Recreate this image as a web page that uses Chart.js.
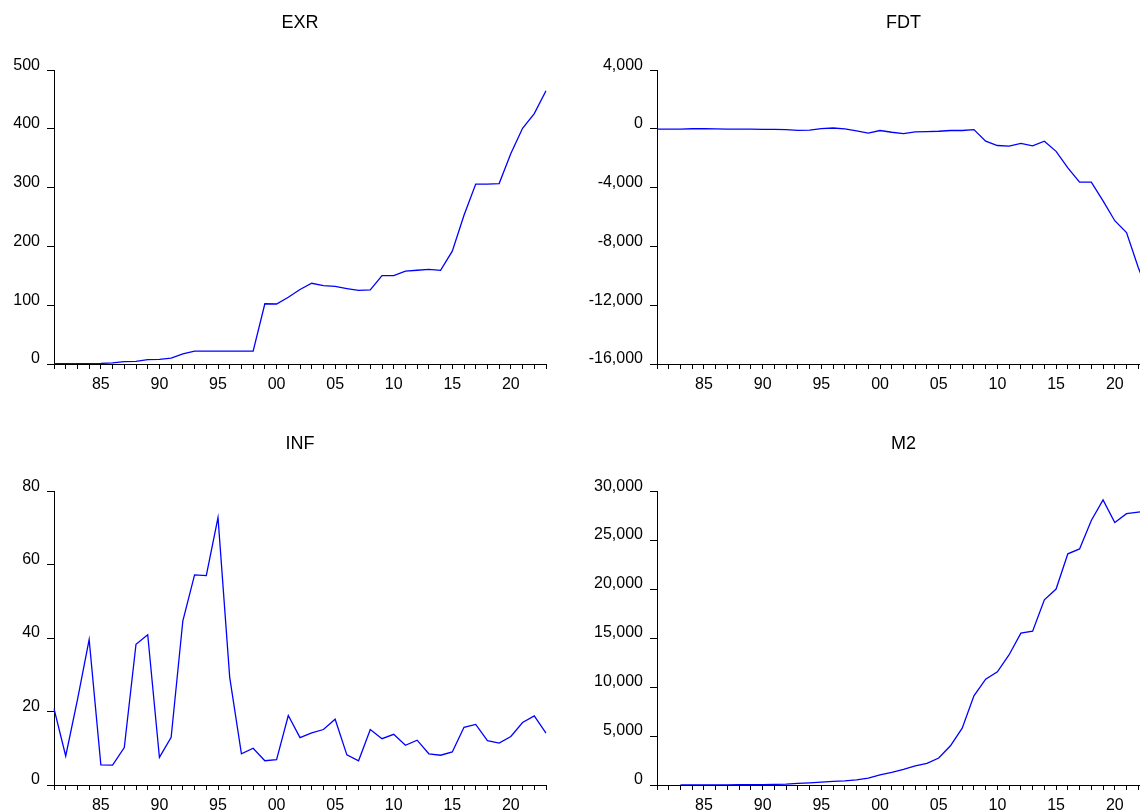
<!DOCTYPE html>
<html lang="en">
<head>
    <meta charset="UTF-8">
    <title>EXR, FDT, INF, M2</title>
    <script src="https://cdn.jsdelivr.net/npm/chart.js"></script>
    <style>
        html, body {
            margin: 0;
            padding: 0;
            background: #fff;
            overflow: hidden;
            width: 1140px;
            height: 812px;
        }
        canvas {
            position: absolute;
        }
    </style>
</head>
<body>

<canvas id="exrChart" width="570" height="410" style="left:0;top:0"></canvas>
<canvas id="fdtChart" width="600" height="410" style="left:570px;top:0"></canvas>
<canvas id="infChart" width="570" height="410" style="left:0;top:421px"></canvas>
<canvas id="m2Chart" width="600" height="410" style="left:570px;top:421px"></canvas>

<script>
    // Años (1981-2023)
    const years = [1981, 1982, 1983, 1984, 1985, 1986, 1987, 1988, 1989, 1990,
                   1991, 1992, 1993, 1994, 1995, 1996, 1997, 1998, 1999, 2000,
                   2001, 2002, 2003, 2004, 2005, 2006, 2007, 2008, 2009, 2010,
                   2011, 2012, 2013, 2014, 2015, 2016, 2017, 2018, 2019, 2020,
                   2021, 2022, 2023];

    // Series
    const exr = [0.6, 0.7, 0.7, 0.8, 0.9, 2.0, 4.0, 4.5, 7.4, 8.0,
                 9.9, 17.3, 22.0, 21.9, 21.9, 21.9, 21.9, 21.9, 102.5, 102.1,
                 113.5, 126.8, 137.3, 133.3, 132.0, 128.4, 125.2, 126.0, 150.3, 150.3,
                 158.0, 159.5, 161.0, 159.3, 192.0, 253.0, 306.0, 306.1, 307.0, 358.0,
                 401.0, 426.0, 465.0];

    const fdt = [-20, -15, -10, 10, 15, -5, -10, -15, -20, -30,
                 -40, -50, -100, -90, 20, 60, 0, -130, -290, -110,
                 -230, -320, -200, -180, -160, -110, -110, -50, -835, -1130,
                 -1170, -990, -1150, -835, -1530, -2660, -3630, -3630, -4900, -6250,
                 -7060, -9430, -11500];

    const inf = [20.8, 7.9, 23.2, 39.6, 5.5, 5.4, 10.2, 38.3, 40.9, 7.5,
                 13.0, 44.7, 57.2, 57.0, 72.8, 29.3, 8.5, 10.0, 6.6, 6.9,
                 18.9, 12.9, 14.2, 15.1, 17.9, 8.2, 6.6, 15.1, 12.6, 13.8,
                 10.8, 12.2, 8.5, 8.1, 9.0, 15.7, 16.5, 12.1, 11.4, 13.2,
                 17.0, 18.8, 14.1];

    const m2 = [null, null, 13, 15, 16, 18, 21, 27, 30, 45,
                65, 80, 160, 220, 300, 370, 430, 525, 700, 1040,
                1300, 1600, 1950, 2200, 2750, 4000, 5800, 9100, 10800, 11550,
                13300, 15500, 15700, 18900, 20000, 23600, 24100, 27000, 29100, 26800,
                27700, 27850, 28000];

    // Ejes Y: min, max, paso
    const exrAxis = [0, 500, 100];
    const fdtAxis = [-16000, 4000, 4000];
    const infAxis = [0, 80, 20];
    const m2Axis = [0, 30000, 5000];

    const fontFamily = '"Liberation Sans", Arial, sans-serif';

    function crearGrafico(id, titulo, datos, eje, anchoEjeY, padDerecha) {
        const config = {
            type: 'line',
            data: {
                labels: years.map(String),
                datasets: [{
                    label: titulo,
                    data: datos,
                    borderColor: '#0000ff',
                    borderWidth: 1.3,
                    pointRadius: 0,
                    tension: 0,
                    fill: false
                }]
            },
            options: {
                responsive: false,
                animation: false,
                layout: {
                    padding: { top: 0, right: padDerecha, bottom: 0, left: 0 }
                },
                scales: {
                    x: {
                        type: 'category',
                        offset: false,
                        grid: {
                            display: true,
                            drawOnChartArea: false,
                            drawTicks: true,
                            tickLength: 5,
                            color: '#000',
                            offset: false
                        },
                        border: { display: true, color: '#000', width: 1 },
                        ticks: {
                            autoSkip: false,
                            maxRotation: 0,
                            minRotation: 0,
                            padding: 6,
                            color: '#000',
                            font: { family: fontFamily, size: 16 },
                            callback: function(value, index) {
                                const y = years[index];
                                return y % 5 === 0 ? String(y).slice(2) : '';
                            }
                        },
                        afterFit: (scale) => { scale.height = 46; }
                    },
                    y: {
                        min: eje[0],
                        max: eje[1],
                        grid: {
                            display: true,
                            drawOnChartArea: false,
                            drawTicks: true,
                            tickLength: 7,
                            color: '#000'
                        },
                        border: { display: true, color: '#000', width: 1 },
                        ticks: {
                            stepSize: eje[2],
                            padding: 7,
                            labelOffset: -5,
                            color: '#000',
                            font: { family: fontFamily, size: 16 }
                        },
                        afterFit: (scale) => { scale.width = anchoEjeY; }
                    }
                },
                plugins: {
                    legend: { display: false },
                    tooltip: { enabled: false },
                    title: {
                        display: true,
                        fullSize: false,   // centrado sobre el área del gráfico
                        text: titulo,
                        color: '#000',
                        font: { family: fontFamily, size: 18, weight: 'normal' },
                        padding: { top: 12.5, bottom: 36 }
                    }
                }
            }
        };
        return new Chart(document.getElementById(id), config);
    }

    crearGrafico('exrChart', 'EXR', exr, exrAxis, 54, 24);
    crearGrafico('fdtChart', 'FDT', fdt, fdtAxis, 87, 20);
    crearGrafico('infChart', 'INF', inf, infAxis, 54, 24);
    crearGrafico('m2Chart', 'M2', m2, m2Axis, 87, 20);
</script>

</body>
</html>
